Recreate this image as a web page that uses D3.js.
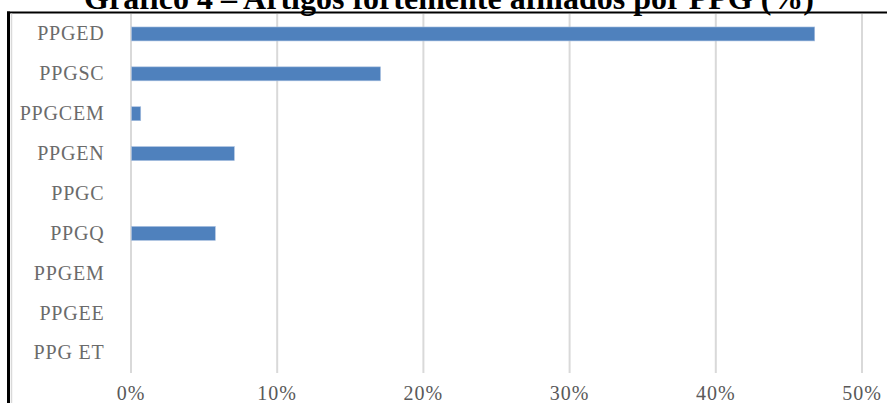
<!DOCTYPE html>
<html>
<head>
<meta charset="utf-8">
<script src="https://cdn.jsdelivr.net/npm/d3@7"></script>
<style>
  body { margin: 0; background: #fff; }
  svg { display: block; }
</style>
</head>
<body>
<svg id="chart" width="887" height="403"></svg>
<script>
let categories = ["PPGED", "PPGSC", "PPGCEM", "PPGEN", "PPGC", "PPGQ", "PPGEM", "PPGEE", "PPG ET"];
let values = [46.8, 17.1, 0.7, 7.1, 0, 5.8, 0, 0, 0];
let ticks = [0, 10, 20, 30, 40, 50];
let title = "Gráfico 4 – Artigos fortemente afiliados por PPG (%)";

let width = 887,
    height = 403;

function make_scales() {
  return {
    x: d3.scaleLinear()
      .domain([0, 50])
      .range([130.5, 861.5]),
    y: d3.scaleBand()
      .domain(categories)
      .range([14, 373])
      .paddingInner(0.65)
      .paddingOuter(0.325)
  }
}

function line(svg, x1, y1, x2, y2, color, w) {
  svg.append("line")
    .attr("x1", x1).attr("y1", y1)
    .attr("x2", x2).attr("y2", y2)
    .style("stroke", color)
    .style("stroke-width", w);
}

function draw() {
  let scales = make_scales();
  let svg = d3.select("#chart");

  // title, cut at the top as in the picture
  svg.append("text")
    .attr("x", 449)
    .attr("y", 8.5)
    .attr("text-anchor", "middle")
    .style("font-family", "'Liberation Serif', 'Times New Roman', serif")
    .style("font-weight", "bold")
    .style("font-size", "32px")
    .style("fill", "#000")
    .text(title);

  // frame
  line(svg, 7, 12.5, width, 12.5, "#000", 2);
  line(svg, 8.5, 11.5, 8.5, height, "#000", 3);
  line(svg, 11.5, 13.5, 11.5, height, "#d9d9d9", 1.5);

  // grid
  let xAxis = d3.axisBottom(scales.x)
    .tickValues(ticks)
    .tickSize(-(373 - 14))
    .tickPadding(13)
    .tickFormat(d => d + "%");
  let gx = svg.append("g")
    .attr("transform", "translate(0,373)")
    .call(xAxis);
  gx.select(".domain").remove();
  gx.selectAll(".tick line")
    .style("stroke", "#d9d9d9")
    .style("stroke-width", 2);
  gx.selectAll(".tick text")
    .style("font-family", "'Liberation Serif', 'Times New Roman', serif")
    .style("font-size", "20px")
    .style("letter-spacing", "1px")
    .style("fill", "#595959");

  // bars
  svg.append("g")
    .selectAll("rect")
    .data(values).enter()
    .append("rect")
    .attr("x", scales.x(0) + 1)
    .attr("y", (d, i) => scales.y(categories[i]))
    .attr("width", d => Math.max(0, scales.x(d) - scales.x(0) - 1))
    .attr("height", scales.y.bandwidth())
    .style("fill", "#4f81bd")
    .style("stroke", "#a9c0e0")
    .style("stroke-width", 0.6);

  // category labels
  let yAxis = d3.axisLeft(scales.y)
    .tickSize(0)
    .tickPadding(26);
  let gy = svg.append("g")
    .attr("transform", "translate(130.5,0)")
    .call(yAxis);
  gy.select(".domain").remove();
  gy.selectAll(".tick text")
    .style("font-family", "'Liberation Serif', 'Times New Roman', serif")
    .style("font-size", "20px")
    .style("letter-spacing", "0.8px")
    .style("fill", "#6b6b6b");
}

draw();
</script>
</body>
</html>
